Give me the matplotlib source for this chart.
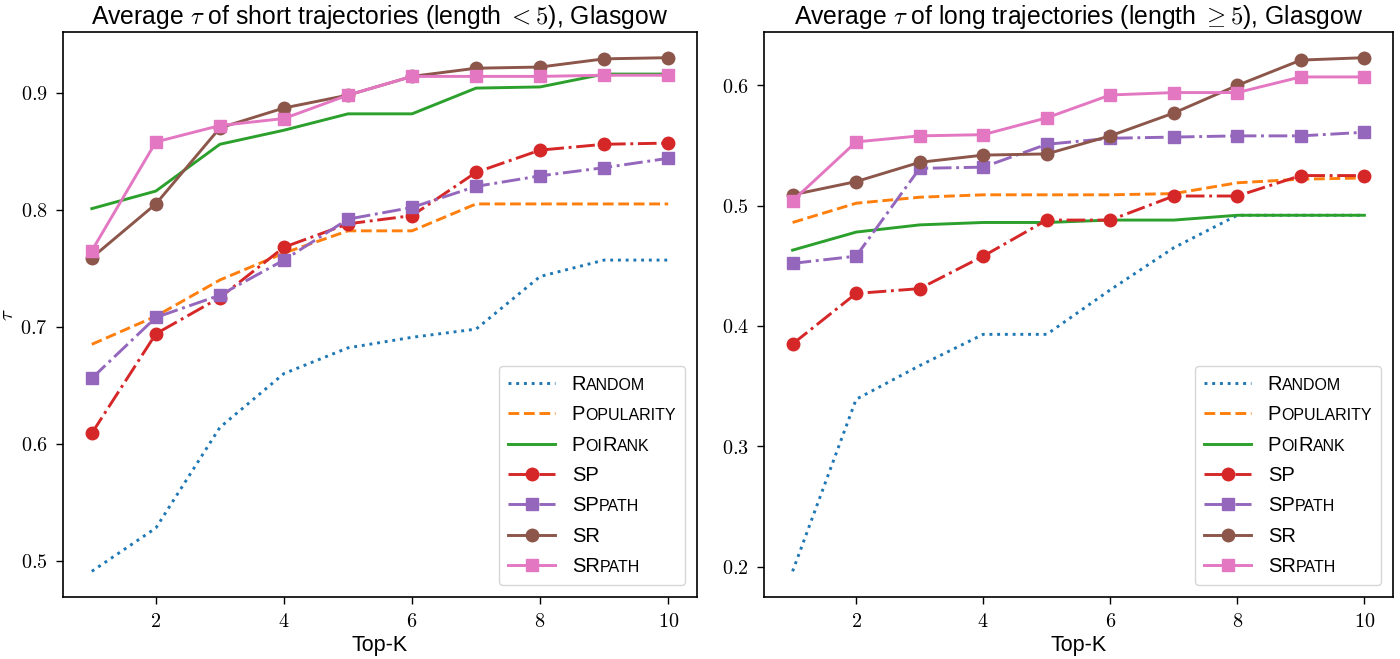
import matplotlib
matplotlib.use('Agg')
import matplotlib.pyplot as plt
from matplotlib.offsetbox import TextArea, HPacker
from matplotlib.ticker import FuncFormatter, MultipleLocator

plt.rcParams['font.family'] = ['Liberation Sans', 'DejaVu Sans']
plt.rcParams['mathtext.fontset'] = 'cm'

# ---------------- data ----------------
top_k = [1, 2, 3, 4, 5, 6, 7, 8, 9, 10]

short_random     = [0.491, 0.528, 0.614, 0.660, 0.682, 0.691, 0.698, 0.743, 0.757, 0.757]
short_popularity = [0.685, 0.709, 0.740, 0.763, 0.782, 0.782, 0.805, 0.805, 0.805, 0.805]
short_poirank    = [0.801, 0.816, 0.856, 0.868, 0.882, 0.882, 0.904, 0.905, 0.916, 0.916]
short_sp         = [0.609, 0.694, 0.725, 0.768, 0.788, 0.795, 0.832, 0.851, 0.856, 0.857]
short_sppath     = [0.656, 0.708, 0.727, 0.757, 0.792, 0.802, 0.820, 0.829, 0.836, 0.844]
short_sr         = [0.759, 0.805, 0.870, 0.887, 0.898, 0.914, 0.921, 0.922, 0.929, 0.930]
short_srpath     = [0.765, 0.858, 0.872, 0.878, 0.898, 0.914, 0.914, 0.914, 0.915, 0.915]

long_random     = [0.196, 0.339, 0.367, 0.393, 0.393, 0.430, 0.465, 0.492, 0.492, 0.492]
long_popularity = [0.486, 0.502, 0.507, 0.509, 0.509, 0.509, 0.510, 0.519, 0.522, 0.523]
long_poirank    = [0.463, 0.478, 0.484, 0.486, 0.486, 0.488, 0.488, 0.492, 0.492, 0.492]
long_sp         = [0.385, 0.427, 0.431, 0.458, 0.488, 0.488, 0.508, 0.508, 0.525, 0.525]
long_sppath     = [0.452, 0.458, 0.531, 0.532, 0.551, 0.556, 0.557, 0.558, 0.558, 0.561]
long_sr         = [0.509, 0.520, 0.536, 0.542, 0.543, 0.558, 0.577, 0.600, 0.621, 0.623]
long_srpath     = [0.504, 0.553, 0.558, 0.559, 0.573, 0.592, 0.594, 0.594, 0.607, 0.607]

method_names = ['Random', 'Popularity', 'PoiRank', 'SP', 'SPpath', 'SR', 'SRpath']
# small-caps pieces: (text, is_capital)
label_parts = [
    [('R', True), ('ANDOM', False)],
    [('P', True), ('OPULARITY', False)],
    [('P', True), ('OI', False), ('R', True), ('ANK', False)],
    [('SP', True)],
    [('SP', True), ('PATH', False)],
    [('SR', True)],
    [('SR', True), ('PATH', False)],
]

titles = [r'Average $\tau$ of short trajectories (length $<5$), Glasgow',
          r'Average $\tau$ of long trajectories (length $\geq 5$), Glasgow']

styles = [
    dict(color='#1f77b4', ls=':'),
    dict(color='#ff7f0e', ls='--'),
    dict(color='#2ca02c', ls='-'),
    dict(color='#d62728', ls='-.', marker='o'),
    dict(color='#9467bd', ls='-.', marker='s'),
    dict(color='#8c564b', ls='-', marker='o'),
    dict(color='#e377c2', ls='-', marker='s'),
]

panels = [
    [short_random, short_popularity, short_poirank, short_sp, short_sppath, short_sr, short_srpath],
    [long_random, long_popularity, long_poirank, long_sp, long_sppath, long_sr, long_srpath],
]

fig = plt.figure(figsize=(14, 6.59), dpi=100)
ax1 = fig.add_axes([63/1400, 62/659, 634/1400, 565/659])
ax2 = fig.add_axes([764/1400, 62/659, 629/1400, 565/659])

BIG, SMALL = 14.5, 11.5

def smallcaps_legend(leg, parts_list):
    rows = []
    for col in leg._legend_handle_box.get_children():
        for row in col.get_children():
            rows.append(row)
    for row, parts in zip(rows, parts_list):
        kids = row.get_children()
        areas = [TextArea(s, textprops=dict(fontsize=BIG if cap else SMALL,
                                            family=['Liberation Sans', 'DejaVu Sans']))
                 for s, cap in parts]
        box = HPacker(children=areas, align='baseline', pad=0, sep=0)
        box.set_figure(fig)
        kids[1] = box

for ax, series, title in zip([ax1, ax2], panels, titles):
    for name, vals, st in zip(method_names, series, styles):
        ax.plot(top_k, vals, label=name, lw=2.1, ms=9, **st)
    ax.set_title(title, fontsize=17.8, pad=5.5)
    ax.set_xlabel('Top-K', fontsize=15.5, labelpad=3)
    ax.xaxis.set_major_locator(MultipleLocator(2))
    ax.yaxis.set_major_locator(MultipleLocator(0.1))
    ax.xaxis.set_major_formatter(FuncFormatter(lambda v, p: r'$%d$' % round(v)))
    ax.yaxis.set_major_formatter(FuncFormatter(lambda v, p: r'$%.1f$' % v))
    ax.tick_params(labelsize=14.5, width=1.0, length=5, pad=6)
    for sp in ax.spines.values():
        sp.set_linewidth(1.2)
    leg = ax.legend(loc='lower right', fontsize=BIG, handlelength=2.3,
                    handletextpad=0.85, borderpad=0.45, labelspacing=0.56,
                    borderaxespad=0.6)
    smallcaps_legend(leg, label_parts)

ax1.set_ylabel(r'$\tau$', fontsize=15, labelpad=2)

fig.savefig('out.png', dpi=100)
